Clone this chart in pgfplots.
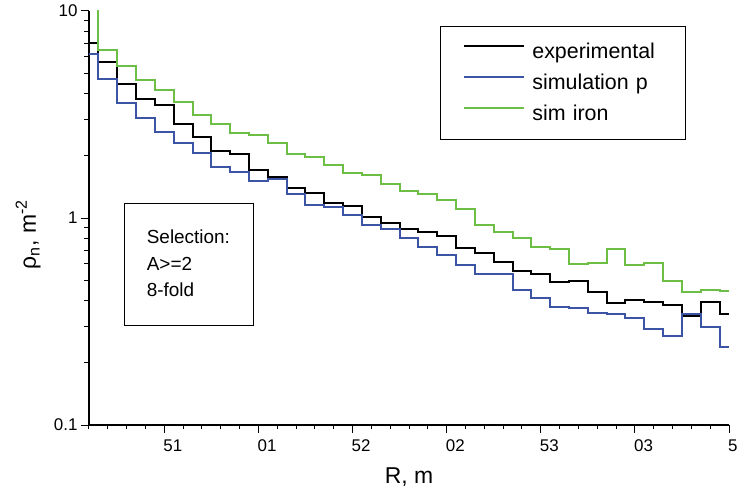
\documentclass[border=0pt]{standalone}
\usepackage{pgfplots}
\pgfplotsset{compat=1.18}
\usepackage{pgfplotstable}
\usepackage{fontspec}
\setmainfont{Liberation Sans}
\definecolor{simblue}{RGB}{59,84,165}
\definecolor{simgreen}{RGB}{108,190,69}
\pgfplotstableread{
x y
0 6.98
0.5 5.69
1.5 4.44
2.5 3.745
3.5 3.515
4.5 2.845
5.5 2.47
6.5 2.114
7.5 2.03
8.5 1.705
9.5 1.583
10.5 1.391
11.5 1.316
12.5 1.186
13.5 1.149
14.5 1.008
15.5 0.941
16.5 0.885
17.5 0.856
18.5 0.818
19.5 0.718
20.5 0.674
21.5 0.613
22.5 0.555
23.5 0.538
24.5 0.490
25.5 0.497
26.5 0.439
27.5 0.388
28.5 0.402
29.5 0.392
30.5 0.380
31.5 0.337
32.5 0.395
33.5 0.343
34 0.343
}\expdata
\pgfplotstableread{
x y
0 6.18
0.5 4.69
1.5 3.606
2.5 3.03
3.5 2.61
4.5 2.311
5.5 2.054
6.5 1.758
7.5 1.674
8.5 1.509
9.5 1.538
10.5 1.302
11.5 1.156
12.5 1.134
13.5 1.034
14.5 0.925
15.5 0.887
16.5 0.799
17.5 0.728
18.5 0.659
19.5 0.592
20.5 0.5365
21.5 0.5365
22.5 0.450
23.5 0.412
24.5 0.371
25.5 0.369
26.5 0.349
27.5 0.344
28.5 0.327
29.5 0.292
30.5 0.268
31.5 0.342
32.5 0.296
33.5 0.237
34 0.237
}\simpdata
\pgfplotstableread{
x y
0 15
0.5 6.48
1.5 5.41
2.5 4.63
3.5 4.155
4.5 3.646
5.5 3.145
6.5 2.836
7.5 2.583
8.5 2.526
9.5 2.311
10.5 2.03
11.5 1.964
12.5 1.803
13.5 1.654
14.5 1.608
15.5 1.455
16.5 1.353
17.5 1.302
18.5 1.222
19.5 1.102
20.5 0.929
21.5 0.859
22.5 0.80
23.5 0.724
24.5 0.706
25.5 0.5995
26.5 0.6042
27.5 0.706
28.5 0.593
29.5 0.604
30.5 0.498
31.5 0.4376
32.5 0.449
33.5 0.442
34 0.442
}\simirondata
\begin{document}
\begin{tikzpicture}
\begin{axis}[
  scale only axis, width=640bp, height=414bp,
  ymode=log, xmin=0, xmax=34, ymin=0.1, ymax=10,
  axis x line*=bottom, axis y line*=left,
  axis line style={-, line width=1.2bp, black},
  xtick={4,9,14,19,24,29,34},
  xticklabels={51,01,52,02,53,03,5},
  minor xtick={0,...,34},
  ytick={0.1,1,10}, yticklabels={0.1,1,10},
  minor ytick={0.2,0.3,0.4,0.5,0.6,0.7,0.8,0.9,2,3,4,5,6,7,8,9},
  tick align=outside,
  major tick length=8bp, minor tick length=4.5bp,
  tick style={black, line width=1bp},
  tick label style={font=\fontsize{17}{20}\selectfont},
  xticklabel style={anchor=north west, inner sep=0pt, xshift=-1bp, yshift=-7bp},
  xlabel={R, m},
  xlabel style={at={(axis description cs:0.5,0)}, anchor=north, inner sep=0pt, yshift=-43bp, font=\fontsize{23}{27}\selectfont},
  ylabel={ρ\textsubscript{n}, m\textsuperscript{-2}},
  ylabel style={at={(axis description cs:-0.095,0.46)}, anchor=center, font=\fontsize{23}{27}\selectfont},
  legend style={
    at={(rel axis cs:0.5484,0.9638)}, anchor=north west,
    draw=black, line width=0.8bp,
    font=\fontsize{21.5}{25}\selectfont,
    inner xsep=23bp, inner ysep=17bp,
    row sep=14bp, column sep=7bp,
    nodes={inner sep=0pt, text height=15bp, text depth=2bp, text width=130bp},
  },
  legend cell align=left,
  legend image code/.code={\draw[#1, line width=2bp] (0bp,5.5bp) -- (60bp,5.5bp);},
]
\addplot[const plot, black, line width=2bp] table {\expdata};
\addplot[const plot, simblue, line width=2bp] table {\simpdata};
\addplot[const plot, simgreen, line width=2bp] table {\simirondata};
\legend{experimental, simulation p, sim iron}
\draw[line width=0.8bp] (rel axis cs:0.0547,0.5362) rectangle (rel axis cs:0.2563,0.2415);
\node[anchor=north west, align=left, inner sep=0pt, font=\fontsize{19}{26.5}\selectfont] at (rel axis cs:0.0901,0.471) {Selection:\\A>=2\\8-fold};
\coordinate (SW) at (rel axis cs:0,0);
\coordinate (NE) at (rel axis cs:1,1);
\end{axis}
\pgfresetboundingbox
\path[use as bounding box] ([shift={(-89bp,-69bp)}]SW) rectangle ([shift={(10bp,11bp)}]NE);
\end{tikzpicture}
\end{document}
